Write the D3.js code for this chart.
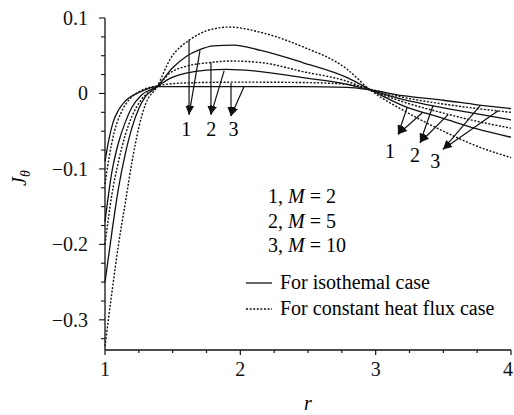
<!DOCTYPE html>
<html>
<head>
<meta charset="utf-8">
<script src="https://cdn.jsdelivr.net/npm/d3@7"></script>
<style>
  body { margin: 0; background: #fff; }
  svg text { font-family: "Liberation Serif", "Times New Roman", Times, "Nimbus Roman", "FreeSerif", "Noto Serif", "DejaVu Serif", serif; }
</style>
</head>
<body>
<div class="main"></div>
<script>
// values: [r, J_theta]
const isoM2 = [[1,-0.25],[1.05,-0.185],[1.1,-0.125],[1.15,-0.08],[1.2,-0.045],[1.25,-0.02],[1.3,-0.004],[1.385,0.009],[1.5,0.034],[1.6,0.049],[1.7,0.058],[1.8,0.063],[1.95,0.064],[2.15,0.057],[2.46,0.041],[2.79,0.021],[2.95,0.006],[3.2,-0.016],[3.5,-0.033],[3.75,-0.047],[4,-0.058]];
const fluxM2 = [[1,-0.335],[1.05,-0.265],[1.1,-0.2],[1.15,-0.145],[1.2,-0.09],[1.25,-0.045],[1.3,-0.014],[1.385,0.009],[1.48,0.045],[1.63,0.0715],[1.75,0.083],[1.92,0.088],[2.15,0.081],[2.46,0.062],[2.79,0.032],[2.95,0.006],[3.2,-0.022],[3.5,-0.05],[3.75,-0.07],[4,-0.085]];
const isoM5 = [[1,-0.17],[1.05,-0.105],[1.1,-0.065],[1.15,-0.038],[1.2,-0.018],[1.27,-0.002],[1.385,0.009],[1.48,0.02],[1.6,0.027],[1.75,0.031],[1.9,0.032],[2.1,0.03],[2.46,0.021],[2.79,0.012],[2.95,0.005],[3.2,-0.008],[3.5,-0.019],[3.75,-0.027],[4,-0.035]];
const fluxM5 = [[1,-0.2],[1.05,-0.135],[1.1,-0.09],[1.15,-0.055],[1.2,-0.03],[1.27,-0.008],[1.385,0.009],[1.48,0.027],[1.6,0.036],[1.78,0.041],[1.92,0.043],[2.15,0.041],[2.46,0.029],[2.79,0.016],[2.95,0.005],[3.2,-0.011],[3.5,-0.026],[3.75,-0.037],[4,-0.046]];
const isoM10 = [[1,-0.09],[1.03,-0.06],[1.06,-0.038],[1.1,-0.022],[1.15,-0.01],[1.26,0.002],[1.385,0.009],[1.6,0.009],[2.0,0.009],[2.46,0.009],[2.79,0.008],[2.95,0.005],[3.2,-0.003],[3.5,-0.009],[3.75,-0.015],[4,-0.02]];
const fluxM10 = [[1,-0.12],[1.03,-0.085],[1.07,-0.05],[1.12,-0.025],[1.18,-0.008],[1.27,0.004],[1.385,0.01],[1.6,0.014],[2.0,0.015],[2.46,0.0145],[2.79,0.012],[2.95,0.006],[3.2,-0.005],[3.5,-0.014],[3.75,-0.02],[4,-0.025]];

const xTicks = [1, 2, 3, 4];
const yTicks = [0.1, 0, -0.1, -0.2, -0.3];
const yTickLabels = ["0.1", "0", "\u22120.1", "\u22120.2", "\u22120.3"];

// arrows: [startR, startJ, tipR, tipJ]
const arrowsLeft = [[1.621,0.0715,1.621,-0.028],[1.702,0.057,1.621,-0.028],
                    [1.783,0.041,1.783,-0.028],[1.88,0.03,1.783,-0.028],
                    [1.931,0.014,1.931,-0.03],[2.027,0.009,1.931,-0.03]];
const arrowsRight = [[3.232,-0.019,3.166,-0.054],[3.343,-0.026,3.166,-0.054],
                     [3.424,-0.016,3.328,-0.065],[3.535,-0.028,3.328,-0.065],
                     [3.772,-0.016,3.498,-0.074],[3.905,-0.023,3.498,-0.074]];
const numLabels = [["1",1.60,-0.057],["2",1.785,-0.057],["3",1.95,-0.057],
                   ["1",3.106,-0.086],["2",3.29,-0.091],["3",3.44,-0.099]];
const caseLabels = ["1", "2", "3"];
const mValues = [2, 5, 10];

const width = 514, height = 415;
const svg = d3.select(".main").append("svg")
    .attr("width", width)
    .attr("height", height);

const x = d3.scaleLinear().domain([1, 4]).range([105, 511]);
const y = d3.scaleLinear().domain([-0.34, 0.1]).range([350, 18]);

// axes
const xAxis = svg.append("g").attr("transform", "translate(0," + y(-0.34) + ")");
xAxis.append("line").attr("x1", x(1)).attr("x2", x(4)).attr("stroke", "#111").attr("stroke-width", 1.3);
xAxis.selectAll(".minor").data(d3.range(1, 4.001, 0.25)).enter().append("line")
    .attr("x1", d => x(d)).attr("x2", d => x(d))
    .attr("y1", 0).attr("y2", d => Math.abs(d - Math.round(d)) < 1e-6 ? 5 : 3)
    .attr("stroke", "#111").attr("stroke-width", 1.2);
xAxis.selectAll(".lbl").data(xTicks).enter().append("text")
    .attr("x", d => d === 4 ? width - 1 : x(d)).attr("y", 26)
    .attr("text-anchor", d => d === 4 ? "end" : "middle")
    .attr("font-size", 20)
    .attr("fill", "#111")
    .text(d => d);

const yAxis = svg.append("g").attr("transform", "translate(" + x(1) + ",0)");
yAxis.append("line").attr("y1", y(0.1)).attr("y2", y(-0.34)).attr("stroke", "#111").attr("stroke-width", 1.3);
yAxis.selectAll(".minor").data(d3.range(0.1, -0.3401, -0.025)).enter().append("line")
    .attr("y1", d => y(d)).attr("y2", d => y(d))
    .attr("x1", 0).attr("x2", d => Math.abs(d * 10 - Math.round(d * 10)) < 1e-6 ? -6 : -4)
    .attr("stroke", "#111").attr("stroke-width", 1.1);
yAxis.selectAll(".lbl").data(yTicks).enter().append("text")
    .attr("x", -17).attr("y", d => y(d) + 7)
    .attr("text-anchor", "end")
    .attr("font-size", 20)
    .attr("fill", "#111")
    .text((d, i) => yTickLabels[i]);

// axis titles
svg.append("text")
    .attr("x", (x(1) + x(4)) / 2).attr("y", 410)
    .attr("text-anchor", "middle")
    .attr("font-size", 20).attr("font-style", "italic")
    .text("r");

const yt = svg.append("text")
    .attr("transform", "translate(26,178) rotate(-90)")
    .attr("text-anchor", "middle")
    .attr("font-size", 20).attr("font-style", "italic");
yt.append("tspan").text("J");
yt.append("tspan").attr("dy", 4).attr("font-size", 14).text("\u03b8");

// curves
const line = d3.line()
    .x(d => x(d[0]))
    .y(d => y(d[1]))
    .curve(d3.curveMonotoneX);

const series = [
    { data: isoM2, dash: null }, { data: isoM5, dash: null }, { data: isoM10, dash: null },
    { data: fluxM2, dash: "2,1.6" }, { data: fluxM5, dash: "2,1.6" }, { data: fluxM10, dash: "2,1.6" }
];

svg.append("g").selectAll("path").data(series).enter().append("path")
    .attr("d", d => line(d.data))
    .attr("fill", "none")
    .attr("stroke", "#111")
    .attr("stroke-width", d => d.dash ? 1.4 : 1.3)
    .attr("stroke-dasharray", d => d.dash);

// arrows
svg.append("defs").append("marker")
    .attr("id", "head")
    .attr("viewBox", "0 0 10 10")
    .attr("refX", 10).attr("refY", 5)
    .attr("markerWidth", 9).attr("markerHeight", 9)
    .attr("markerUnits", "userSpaceOnUse")
    .attr("orient", "auto")
    .append("path")
    .attr("d", "M0,1 L10,5 L0,9 Z")
    .attr("fill", "#111");

svg.append("g").selectAll("line").data(arrowsLeft.concat(arrowsRight)).enter().append("line")
    .attr("x1", d => x(d[0])).attr("y1", d => y(d[1]))
    .attr("x2", d => x(d[2])).attr("y2", d => y(d[3]))
    .attr("stroke", "#111").attr("stroke-width", 1.2)
    .attr("marker-end", "url(#head)");

svg.append("g").selectAll("text").data(numLabels).enter().append("text")
    .attr("x", d => x(d[1])).attr("y", d => y(d[2]))
    .attr("text-anchor", "middle")
    .attr("font-size", 20)
    .text(d => d[0]);

// legend
const lg = svg.append("g");
caseLabels.forEach((c, i) => {
    const t = lg.append("text")
        .attr("x", 268).attr("y", 203 + i * 24.5)
        .attr("font-size", 20);
    t.append("tspan").text(c + ", ");
    t.append("tspan").attr("font-style", "italic").text("M");
    t.append("tspan").text(" = " + mValues[i]);
});

const keys = [["For isothemal case", null], ["For constant heat flux case", "2,1.6"]];
keys.forEach((k, i) => {
    const yy = 283 + i * 26;
    lg.append("line")
        .attr("x1", 246).attr("x2", 272)
        .attr("y1", yy).attr("y2", yy)
        .attr("stroke", "#111").attr("stroke-width", 1.3)
        .attr("stroke-dasharray", k[1]);
    lg.append("text")
        .attr("x", 280).attr("y", yy + 6)
        .attr("font-size", 20)
        .text(k[0]);
});
</script>
</body>
</html>
